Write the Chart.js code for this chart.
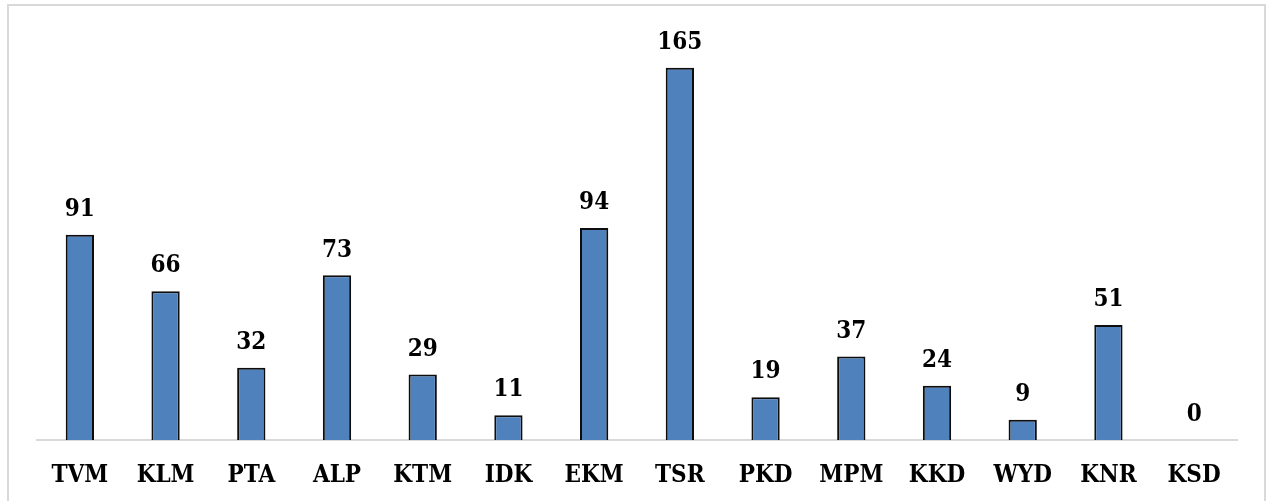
<!DOCTYPE html>
<html>
<head>
<meta charset="utf-8">
<script src="https://cdn.jsdelivr.net/npm/chart.js@4"></script>
<style>
  html, body { margin: 0; padding: 0; background: #fff; }
  body { width: 1266px; height: 501px; position: relative; overflow: hidden; }
  #frame { position: absolute; left: 7px; top: 4px; width: 1259px; height: 520px; border: 2px solid #d9d9d9; box-sizing: border-box; }
  #wrap { position: absolute; left: 0; top: 0; width: 1266px; height: 501px; }
</style>
</head>
<body>
<div id="frame"></div>
<div id="wrap"><canvas id="c" width="1266" height="501"></canvas></div>
<script>
// District codes and their counts
const districts = ['TVM', 'KLM', 'PTA', 'ALP', 'KTM', 'IDK', 'EKM', 'TSR', 'PKD', 'MPM', 'KKD', 'WYD', 'KNR', 'KSD'];
const counts = [91, 66, 32, 73, 29, 11, 94, 165, 19, 37, 24, 9, 51, 0];

const labelFont = { family: '"DejaVu Serif Condensed", "DejaVu Serif", serif', size: 24, weight: 'bold' };

// Writes each bar's value just above its top
const valueLabels = {
  id: 'valueLabels',
  afterDatasetsDraw(chart) {
    const ctx = chart.ctx;
    const meta = chart.getDatasetMeta(0);
    const data = chart.data.datasets[0].data;
    ctx.save();
    ctx.font = `${labelFont.weight} ${labelFont.size}px ${labelFont.family}`;
    ctx.fillStyle = '#000';
    ctx.textAlign = 'center';
    ctx.textBaseline = 'middle';
    meta.data.forEach((bar, i) => {
      ctx.fillText(String(data[i]), bar.x, bar.y - 25);
    });
    ctx.restore();
  }
};

new Chart(document.getElementById('c'), {
  type: 'bar',
  data: {
    labels: districts,
    datasets: [{
      data: counts,
      backgroundColor: '#4f81bd',
      borderColor: '#0d0d0d',
      borderWidth: 2,
      borderSkipped: 'bottom',
      categoryPercentage: 1,
      barPercentage: 0.33
    }]
  },
  options: {
    responsive: false,
    animation: false,
    devicePixelRatio: 1,
    layout: { padding: { left: 37, right: 29, top: 34, bottom: 13 } },
    plugins: { legend: { display: false }, tooltip: { enabled: false } },
    scales: {
      x: {
        grid: { display: false },
        border: { display: true, color: '#d9d9d9', width: 2 },
        ticks: { color: '#000', font: labelFont, padding: 13, maxRotation: 0 },
        afterFit(scale) { scale.height = 48; }
      },
      y: {
        display: false,
        min: 0,
        max: 180
      }
    }
  },
  plugins: [valueLabels]
});
</script>
</body>
</html>
